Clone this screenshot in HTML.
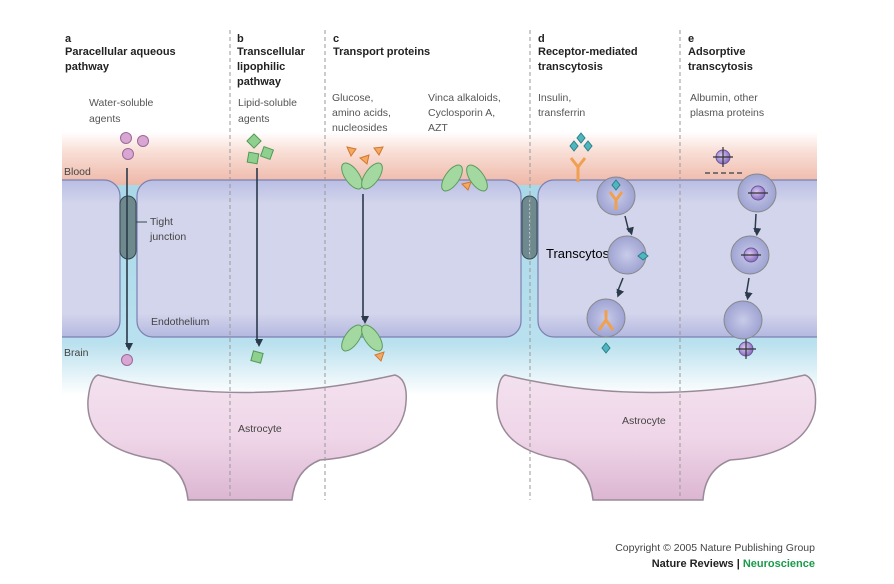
<!DOCTYPE html>
<html><head><meta charset="utf-8"><style>
html,body{margin:0;padding:0;background:#fff;}
svg{display:block;font-family:"Liberation Sans",sans-serif;}
.h{font-weight:bold;font-size:11px;fill:#222;}
.s{font-size:10.5px;fill:#555;}
.l{font-size:10.5px;fill:#444;}
</style></head><body>
<svg width="894" height="584" viewBox="0 0 894 584" xmlns="http://www.w3.org/2000/svg">
<defs>
<linearGradient id="blood" x1="0" y1="0" x2="0" y2="1">
<stop offset="0" stop-color="#fff"/><stop offset="0.35" stop-color="#f9e0d8"/><stop offset="1" stop-color="#eeb7a7"/></linearGradient>
<linearGradient id="brain" x1="0" y1="0" x2="0" y2="1">
<stop offset="0" stop-color="#a9d8e8"/><stop offset="0.75" stop-color="#b9e0ee"/><stop offset="1" stop-color="#ffffff"/></linearGradient>
<linearGradient id="cell" x1="0" y1="0" x2="0" y2="1">
<stop offset="0" stop-color="#b9bde3"/><stop offset="0.15" stop-color="#d3d5ec"/><stop offset="0.85" stop-color="#d3d5ec"/><stop offset="1" stop-color="#b4b8df"/></linearGradient>
<linearGradient id="astro" x1="0" y1="0" x2="0" y2="1">
<stop offset="0" stop-color="#f3e1ef"/><stop offset="0.5" stop-color="#efd6e8"/><stop offset="1" stop-color="#dcb6d2"/></linearGradient>
<radialGradient id="ves" cx="0.5" cy="0.5" r="0.5"><stop offset="0" stop-color="#c8cbe9"/><stop offset="1" stop-color="#9ea3d2"/></radialGradient>
<radialGradient id="alb" cx="0.4" cy="0.4" r="0.6"><stop offset="0" stop-color="#d9c9f0"/><stop offset="1" stop-color="#8a70c0"/></radialGradient>
<marker id="ar" markerWidth="8" markerHeight="8" refX="4" refY="6" orient="auto" markerUnits="userSpaceOnUse"><path d="M0,0 L8,0 L4,8 z" fill="#2b3a4a" transform="rotate(-90 4 4)"/></marker>
</defs>
<rect x="62" y="132" width="755" height="53" fill="url(#blood)"/>
<rect x="62" y="185" width="755" height="210" fill="url(#brain)"/>
<rect x="40" y="180" width="80" height="157" rx="16" fill="url(#cell)" stroke="#7b80b2" stroke-width="1.2"/>
<rect x="137" y="180" width="384" height="157" rx="16" fill="url(#cell)" stroke="#7b80b2" stroke-width="1.2"/>
<rect x="538" y="180" width="300" height="157" rx="16" fill="url(#cell)" stroke="#7b80b2" stroke-width="1.2"/>
<rect x="817" y="170" width="77" height="230" fill="#fff"/>
<rect x="0" y="170" width="62" height="230" fill="#fff"/>
<rect x="120" y="196" width="16" height="63" rx="8" fill="#6e8a8e" stroke="#35484e"/>
<rect x="522" y="196" width="15" height="63" rx="7.5" fill="#6e8a8e" stroke="#35484e"/>
<line x1="529.5" y1="200" x2="529.5" y2="255" stroke="#bcd" stroke-dasharray="2,2"/>
<line x1="136" y1="222" x2="147" y2="222" stroke="#35484e"/>
<path d="M98,375 Q240,410 395,375 Q410,380 405,410 Q395,455 320,460 Q295,470 292,500 L188,500 Q185,470 160,460 Q85,450 88,400 Q90,378 98,375 Z" fill="url(#astro)" stroke="#9a8a98" stroke-width="1.5"/>
<path d="M505,375 Q650,410 805,375 Q818,380 815,410 Q805,455 730,460 Q705,470 703,500 L593,500 Q590,470 565,460 Q495,450 497,400 Q498,378 505,375 Z" fill="url(#astro)" stroke="#9a8a98" stroke-width="1.5"/>
<g stroke="#999" stroke-dasharray="4,3" stroke-width="1">
<line x1="230" y1="30" x2="230" y2="500"/><line x1="325" y1="30" x2="325" y2="500"/>
<line x1="530" y1="30" x2="530" y2="500"/><line x1="680" y1="30" x2="680" y2="500"/>
</g>
<text class="h" x="65" y="42">a</text><text class="h" x="65" y="55">Paracellular aqueous</text><text class="h" x="65" y="70">pathway</text>
<text class="h" x="237" y="42">b</text><text class="h" x="237" y="55">Transcellular</text><text class="h" x="237" y="70">lipophilic</text><text class="h" x="237" y="85">pathway</text>
<text class="h" x="333" y="42">c</text><text class="h" x="333" y="55">Transport proteins</text>
<text class="h" x="538" y="42">d</text><text class="h" x="538" y="55">Receptor-mediated</text><text class="h" x="538" y="70">transcytosis</text>
<text class="h" x="688" y="42">e</text><text class="h" x="688" y="55">Adsorptive</text><text class="h" x="688" y="70">transcytosis</text>
<text class="s" x="89" y="106">Water-soluble</text><text class="s" x="89" y="122">agents</text>
<text class="s" x="238" y="106">Lipid-soluble</text><text class="s" x="238" y="122">agents</text>
<text class="s" x="332" y="101">Glucose,</text><text class="s" x="332" y="116">amino acids,</text><text class="s" x="332" y="131">nucleosides</text>
<text class="s" x="428" y="101">Vinca alkaloids,</text><text class="s" x="428" y="116">Cyclosporin A,</text><text class="s" x="428" y="131">AZT</text>
<text class="s" x="538" y="101">Insulin,</text><text class="s" x="538" y="116">transferrin</text>
<text class="s" x="690" y="101">Albumin, other</text><text class="s" x="690" y="116">plasma proteins</text>
<text class="l" x="64" y="175">Blood</text><text class="l" x="64" y="356">Brain</text>
<text class="l" x="150" y="225">Tight</text><text class="l" x="150" y="240">junction</text>
<text class="l" x="151" y="325">Endothelium</text>
<text class="l" x="238" y="432">Astrocyte</text><text class="l" x="622" y="424">Astrocyte</text>
<text x="546" y="258" style="font-size:13px;fill:#000">Transcytosis</text>
<g fill="#d9a6d4" stroke="#9a6a98"><circle cx="126" cy="138" r="5.5"/><circle cx="143" cy="141" r="5.5"/><circle cx="128" cy="154" r="5.5"/><circle cx="127" cy="360" r="5.5"/></g>
<line x1="127" y1="168" x2="127" y2="347" stroke="#2b3a4a" stroke-width="1.6" marker-end="url(#ar)"/>
<g fill="#8fcf8f" stroke="#4f9a55"><rect x="248" y="153" width="10" height="10" transform="rotate(10 253 158)"/><rect x="262" y="148" width="10" height="10" transform="rotate(20 267 153)"/><rect x="249" y="136" width="10" height="10" transform="rotate(45 254 141)"/><rect x="252" y="352" width="10" height="10" transform="rotate(15 257 357)"/></g>
<line x1="257" y1="168" x2="257" y2="343" stroke="#2b3a4a" stroke-width="1.6" marker-end="url(#ar)"/>
<g fill="#a3d8a0" stroke="#5a9c5c">
<ellipse cx="352" cy="176" rx="7" ry="15" transform="rotate(-35 352 176)"/><ellipse cx="372" cy="176" rx="7" ry="15" transform="rotate(35 372 176)"/>
<ellipse cx="352" cy="338" rx="7" ry="15" transform="rotate(35 352 338)"/><ellipse cx="372" cy="338" rx="7" ry="15" transform="rotate(-35 372 338)"/>
<ellipse cx="452" cy="178" rx="7" ry="15" transform="rotate(35 452 178)"/><ellipse cx="477" cy="178" rx="7" ry="15" transform="rotate(-35 477 178)"/>
</g>
<g fill="#f5a860" stroke="#d07830"><path d="M347,147 l9,2 l-5,7z"/><path d="M360,158 l9,-3 l-2,9z"/><path d="M374,148 l9,-1 l-4,8z"/><path d="M375,355 l9,-3 l-3,9z"/><path d="M462,184 l9,-2 l-3,8z"/></g>
<line x1="363" y1="194" x2="363" y2="320" stroke="#2b3a4a" stroke-width="1.6" marker-end="url(#ar)"/>
<g fill="#4fb6c0" stroke="#2a8088"><path d="M581,133 l4,5 l-4,5 l-4,-5z"/><path d="M574,141 l4,5 l-4,5 l-4,-5z"/><path d="M588,141 l4,5 l-4,5 l-4,-5z"/></g>
<path d="M578,182 L578,167 L571,158 M578,167 L585,158" stroke="#f0a050" stroke-width="3" fill="none"/>
<circle cx="616" cy="196" r="19" fill="url(#ves)" stroke="#888"/>
<circle cx="627" cy="255" r="19" fill="url(#ves)" stroke="#888"/>
<circle cx="606" cy="318" r="19" fill="url(#ves)" stroke="#888"/>
<path d="M616,210 L616,200 L610,192 M616,200 L622,192" stroke="#f0a050" stroke-width="3" fill="none"/>
<path d="M606,310 L606,320 L599,330 M606,320 L613,330" stroke="#f0a050" stroke-width="3" fill="none"/>
<g fill="#4fb6c0" stroke="#2a8088"><path d="M616,180 l4,5 l-4,5 l-4,-5z"/><path d="M643,252 l5,4 l-5,4 l-5,-4z"/><path d="M606,343 l4,5 l-4,5 l-4,-5z"/></g>
<line x1="625" y1="216" x2="629" y2="232" stroke="#2b3a4a" stroke-width="1.5" marker-end="url(#ar)"/>
<line x1="623" y1="278" x2="617" y2="293" stroke="#2b3a4a" stroke-width="1.5" marker-end="url(#ar)"/>
<circle cx="757" cy="193" r="19" fill="url(#ves)" stroke="#888"/>
<circle cx="750" cy="255" r="19" fill="url(#ves)" stroke="#888"/>
<circle cx="743" cy="320" r="19" fill="url(#ves)" stroke="#888"/>
<g fill="url(#alb)" stroke="#6a55a0"><circle cx="723" cy="157" r="7"/><circle cx="758" cy="193" r="7"/><circle cx="751" cy="255" r="7"/><circle cx="746" cy="349" r="7"/></g>
<g stroke="#333" stroke-width="1.2"><line x1="713" y1="157" x2="733" y2="157"/><line x1="723" y1="147" x2="723" y2="167"/><line x1="736" y1="349" x2="756" y2="349"/><line x1="746" y1="339" x2="746" y2="359"/><line x1="748" y1="193" x2="768" y2="193"/><line x1="741" y1="255" x2="761" y2="255"/></g>
<line x1="705" y1="173" x2="742" y2="173" stroke="#555" stroke-width="1.5" stroke-dasharray="5,3"/>
<line x1="756" y1="214" x2="755" y2="232" stroke="#2b3a4a" stroke-width="1.5" marker-end="url(#ar)"/>
<line x1="749" y1="278" x2="746" y2="296" stroke="#2b3a4a" stroke-width="1.5" marker-end="url(#ar)"/>
<text x="815" y="551" text-anchor="end" style="font-size:10.5px;fill:#444">Copyright © 2005 Nature Publishing Group</text>
<text x="815" y="567" text-anchor="end" style="font-size:11px;font-weight:bold;fill:#222">Nature Reviews | <tspan fill="#1a9a4a">Neuroscience</tspan></text>
</svg>
</body></html>
